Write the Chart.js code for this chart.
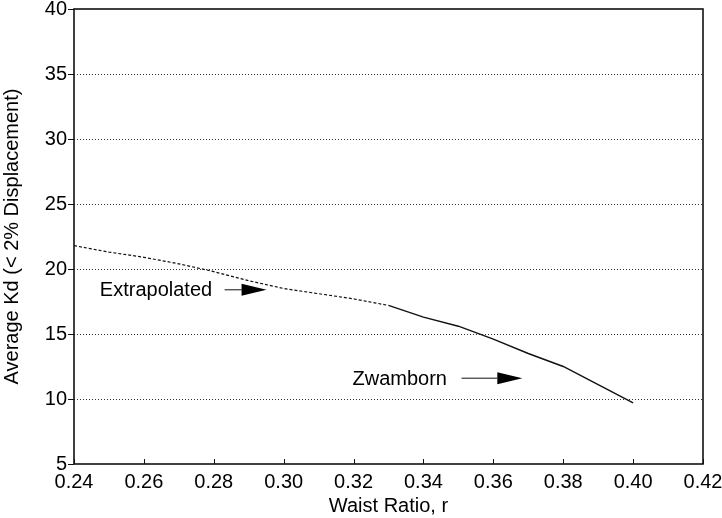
<!DOCTYPE html>
<html>
<head>
<meta charset="utf-8">
<script src="https://cdn.jsdelivr.net/npm/chart.js@4/dist/chart.umd.min.js"></script>
<style>
  html, body { margin: 0; padding: 0; background: #fff; }
  #wrap { width: 722px; height: 518px; }
</style>
</head>
<body>
<div id="wrap"><canvas id="kdChart" width="722" height="518"></canvas></div>
<script>
// waist ratio r and average Kd
const extrapR = [0.24, 0.25, 0.26, 0.27, 0.28, 0.29, 0.30, 0.31, 0.32, 0.33];
const extrapKd = [21.8, 21.3, 20.9, 20.4, 19.8, 19.1, 18.5, 18.1, 17.7, 17.2];
const zwambornR = [0.33, 0.34, 0.35, 0.36, 0.37, 0.38, 0.39, 0.40];
const zwambornKd = [17.2, 16.3, 15.6, 14.6, 13.5, 12.5, 11.1, 9.7];

// labels with arrows, in data units
const notes = [
  { text: 'Extrapolated', x: 0.2474, y: 18.4, from: 0.2831, to: 0.2951 },
  { text: 'Zwamborn', x: 0.3197, y: 11.6, from: 0.3509, to: 0.3683 }
];

const font = { family: '"Liberation Sans", Arial, sans-serif', size: 20 };

function pts(xs, ys) {
  return xs.map((x, i) => ({ x: x, y: ys[i] }));
}

const frame = {
  id: 'frame',
  afterDraw(chart) {
    const c = chart.ctx;
    const a = chart.chartArea;
    const xs = chart.scales.x;
    c.save();
    c.strokeStyle = '#111';
    c.lineWidth = 1.6;
    c.strokeRect(a.left, a.top, a.right - a.left, a.bottom - a.top);
    // inward x ticks
    c.lineWidth = 1;
    xs.ticks.forEach(t => {
      const px = Math.round(xs.getPixelForValue(t.value)) + 0.5;
      c.beginPath();
      c.moveTo(px, a.bottom);
      c.lineTo(px, a.bottom - 5);
      c.stroke();
    });
    // annotations
    const ys = chart.scales.y;
    c.fillStyle = '#000';
    c.font = '20px "Liberation Sans", Arial, sans-serif';
    c.textBaseline = 'middle';
    notes.forEach(n => {
      const y = ys.getPixelForValue(n.y);
      c.fillText(n.text, xs.getPixelForValue(n.x), y + 1);
      const x0 = xs.getPixelForValue(n.from);
      const x1 = xs.getPixelForValue(n.to);
      const head = 25;
      c.beginPath();
      c.moveTo(x0, y);
      c.lineTo(x1 - head, y);
      c.stroke();
      c.beginPath();
      c.moveTo(x1, y);
      c.lineTo(x1 - head, y - 6);
      c.lineTo(x1 - head, y + 6);
      c.closePath();
      c.fill();
    });
    c.restore();
  }
};

new Chart(document.getElementById('kdChart'), {
  type: 'scatter',
  data: {
    datasets: [{
      label: 'Extrapolated',
      data: pts(extrapR, extrapKd),
      showLine: true,
      borderColor: '#111',
      borderWidth: 1.2,
      borderDash: [3, 2],
      pointRadius: 0,
      tension: 0
    },
    {
      label: 'Zwamborn',
      data: pts(zwambornR, zwambornKd),
      showLine: true,
      borderColor: '#111',
      borderWidth: 1.4,
      pointRadius: 0,
      tension: 0
    }]
  },
  options: {
    responsive: false,
    animation: false,
    layout: { padding: { top: 9, right: 19, left: 0, bottom: 0 } },
    plugins: {
      legend: { display: false },
      tooltip: { enabled: false }
    },
    scales: {
      x: {
        type: 'linear',
        min: 0.24,
        max: 0.42,
        afterFit: s => { s.height = 54; s.paddingLeft = 0; s.paddingRight = 0; },
        ticks: {
          stepSize: 0.02,
          color: '#000',
          font: font,
          padding: -2,
          maxRotation: 0,
          callback: v => v.toFixed(2)
        },
        grid: { display: false },
        border: { display: false },
        title: {
          display: true,
          text: 'Waist Ratio, r',
          color: '#000',
          font: font,
          padding: { top: 0, bottom: 0 }
        }
      },
      y: {
        min: 5,
        max: 40,
        afterFit: s => { s.width = 74; s.paddingTop = 0; s.paddingBottom = 0; },
        ticks: {
          stepSize: 5,
          color: '#000',
          font: font,
          padding: 1
        },
        grid: {
          color: ctx => (ctx.tick && (ctx.tick.value === 5 || ctx.tick.value === 40)) ? 'rgba(0,0,0,0)' : '#333',
          tickColor: '#111',
          tickLength: 6,
          lineWidth: 1
        },
        border: { display: false, dash: [1, 2] },
        title: {
          display: true,
          text: 'Average Kd (< 2% Displacement)',
          color: '#000',
          font: font,
          padding: 0
        }
      }
    }
  },
  plugins: [frame]
});
</script>
</body>
</html>
